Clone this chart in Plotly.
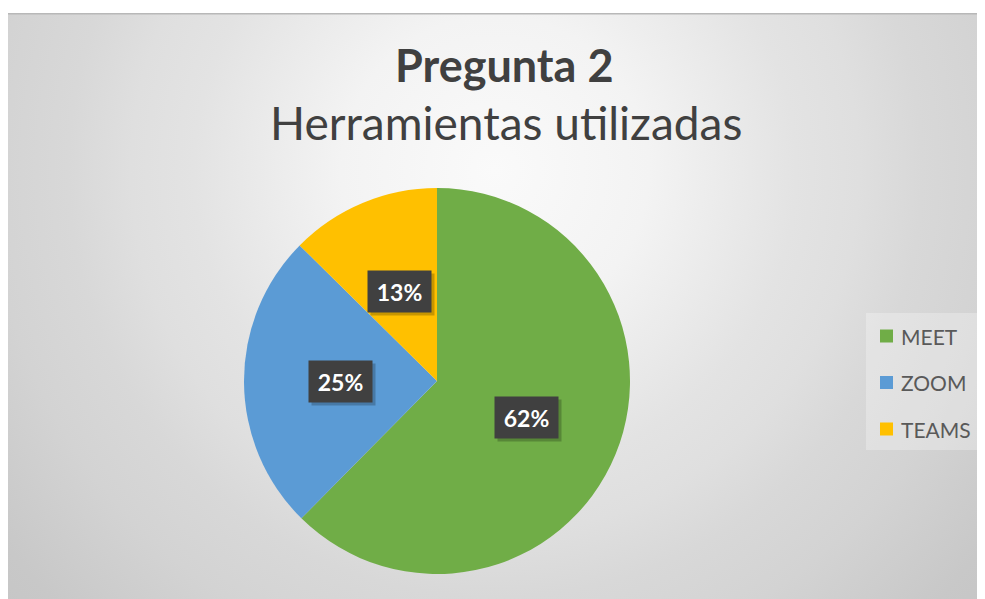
import math
import base64
import plotly.graph_objects as go

# ---- data ----
labels = ["MEET", "ZOOM", "TEAMS"]
values = [62.4, 25.0, 12.6]
colors = ["#70AD47", "#5B9BD5", "#FFC000"]
title_main = "Pregunta 2"
title_sub = "Herramientas utilizadas"

# ---- layout constants (reference-window pixel coordinates) ----
W, H = 985, 599
OFF = 8          # page body margin of the browser
CX, CY, R = 437, 381, 193
FONT = "Lato"


def px(x):
    return (x - OFF) / W


def py(y):
    return 1 - (y - OFF) / H


fig = go.Figure(
    go.Pie(
        labels=labels,
        values=values,
        marker=dict(colors=colors, line=dict(width=0)),
        sort=False,
        direction="clockwise",
        rotation=0,
        textinfo="none",
        hovertemplate="%{label}: %{percent}<extra></extra>",
        domain=dict(x=[px(CX - R), px(CX + R)], y=[py(CY + R), py(CY - R)]),
        showlegend=False,
    )
)

# background radial gradient for chart area
AX0, AY0, AX1, AY1 = 7, 13, 990, 605
aw, ah = AX1 - AX0, AY1 - AY0
gcx, gcy = 495 - AX0, 170 - AY0
svg = f"""<svg xmlns="http://www.w3.org/2000/svg" width="{aw}" height="{ah}" viewBox="0 0 {aw} {ah}" preserveAspectRatio="none">
<defs><radialGradient id="g" gradientUnits="userSpaceOnUse" cx="{gcx}" cy="{gcy}" r="700">
<stop offset="0" stop-color="#fafafa"/>
<stop offset="0.22" stop-color="#f3f3f3"/>
<stop offset="0.43" stop-color="#e3e3e3"/>
<stop offset="0.52" stop-color="#dfdfdf"/>
<stop offset="0.61" stop-color="#d8d8d8"/>
<stop offset="0.72" stop-color="#d3d3d3"/>
<stop offset="0.88" stop-color="#c8c8c8"/>
<stop offset="1" stop-color="#c4c4c4"/>
</radialGradient></defs>
<rect x="0" y="0" width="{aw}" height="{ah}" fill="url(#g)"/>
<line x1="0" y1="0.75" x2="{aw}" y2="0.75" stroke="#b8b8b8" stroke-width="1.5"/>
<line x1="0.5" y1="0" x2="0.5" y2="{ah}" stroke="#c4c4c4" stroke-width="1"/>
</svg>"""
src = "data:image/svg+xml;base64," + base64.b64encode(svg.encode()).decode()

annotations = []

# titles
annotations.append(dict(
    text=f"<b>{title_main}</b>", x=px(504), y=py(65), xref="paper", yref="paper",
    xanchor="center", yanchor="middle", showarrow=False,
    font=dict(family=FONT, size=45, color="#404040")))
annotations.append(dict(
    text=title_sub, x=px(506), y=py(122), xref="paper", yref="paper",
    xanchor="center", yanchor="middle", showarrow=False,
    font=dict(family=FONT, size=46, color="#404040")))

# data labels: at half radius along mid-angle of each slice
total = sum(values)
cum = 0.0
for v in values:
    theta = 2 * math.pi * (cum + v / 2) / total
    cum += v
    lx = CX + 0.5 * R * math.sin(theta)
    ly = CY - 0.5 * R * math.cos(theta)
    annotations.append(dict(
        text="", x=px(lx), y=py(ly), xref="paper", yref="paper",
        xanchor="center", yanchor="middle", showarrow=False,
        width=63, height=41, borderpad=0, bgcolor="rgba(0,0,0,0.22)",
        xshift=3, yshift=-3))
    annotations.append(dict(
        text=f"<b>{v:.0f}%</b>", x=px(lx), y=py(ly), xref="paper", yref="paper",
        xanchor="center", yanchor="middle", showarrow=False,
        width=63, height=41, borderpad=0, bgcolor="#404040",
        font=dict(family=FONT, size=23, color="#ffffff")))

# manual legend
LEG_X0, LEG_Y0, LEG_X1, LEG_Y1 = 866, 313, 980, 450
shapes = [dict(type="rect", xref="paper", yref="paper",
               x0=px(LEG_X0), x1=px(LEG_X1), y0=py(LEG_Y1), y1=py(LEG_Y0),
               fillcolor="rgba(255,255,255,0.28)", line=dict(width=0), layer="below")]
LEG_FIRST_Y, LEG_STEP = 336, 46.5
for i, (lab, col) in enumerate(zip(labels, colors)):
    yy = LEG_FIRST_Y + i * LEG_STEP
    shapes.append(dict(type="rect", xref="paper", yref="paper",
                       x0=px(880), x1=px(893), y0=py(yy + 6.5), y1=py(yy - 6.5),
                       fillcolor=col, line=dict(width=0)))
    annotations.append(dict(
        text=lab, x=px(899), y=py(yy), xref="paper", yref="paper",
        xanchor="left", yanchor="middle", showarrow=False,
        font=dict(family=FONT, size=21, color="#595959")))

fig.update_layout(
    width=W, height=H,
    margin=dict(l=0, r=0, t=0, b=0),
    paper_bgcolor="#ffffff",
    plot_bgcolor="#ffffff",
    showlegend=False,
    images=[dict(source=src, xref="paper", yref="paper",
                 x=px(AX0), y=py(AY0), sizex=aw / W, sizey=ah / H,
                 sizing="stretch", layer="below", xanchor="left", yanchor="top")],
    annotations=annotations,
    shapes=shapes,
)

fig.write_html("out.html")
